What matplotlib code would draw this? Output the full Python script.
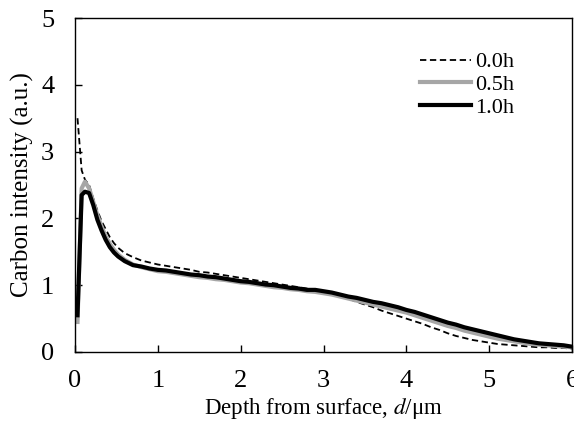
import matplotlib
matplotlib.use("Agg")
import matplotlib.pyplot as plt

# depth from surface (um), shared by all three profiles
depth = [0.03, 0.08, 0.12, 0.17, 0.22, 0.27, 0.32, 0.37, 0.42, 0.47, 0.52,
         0.6, 0.7, 0.8, 0.9, 1.0, 1.1, 1.2, 1.3, 1.4, 1.5, 1.6, 1.7, 1.8, 1.9,
         2.0, 2.1, 2.2, 2.3, 2.4, 2.5, 2.6, 2.7, 2.8, 2.9, 3.0, 3.1, 3.2, 3.3,
         3.4, 3.5, 3.6, 3.7, 3.8, 3.9, 4.0, 4.1, 4.2, 4.3, 4.4, 4.5, 4.6, 4.7,
         4.8, 4.9, 5.0, 5.1, 5.2, 5.3, 5.4, 5.5, 5.6, 5.7, 5.8, 5.9, 6.0]

c_00h = [3.50, 2.72, 2.58, 2.50, 2.30, 2.12, 1.96, 1.84, 1.72, 1.63, 1.56,
         1.48, 1.42, 1.37, 1.34, 1.31, 1.29, 1.27, 1.25, 1.23, 1.20, 1.19, 1.17, 1.15, 1.13,
         1.11, 1.09, 1.07, 1.05, 1.03, 1.01, 0.99, 0.97, 0.95, 0.93, 0.90, 0.87, 0.84, 0.80,
         0.75, 0.71, 0.67, 0.62, 0.58, 0.54, 0.50, 0.46, 0.42, 0.37, 0.33, 0.28, 0.24, 0.21,
         0.18, 0.16, 0.14, 0.12, 0.11, 0.10, 0.09, 0.08, 0.07, 0.07, 0.06, 0.06, 0.05]

c_05h = [0.45, 2.45, 2.55, 2.45, 2.25, 2.05, 1.88, 1.73, 1.62, 1.53, 1.46,
         1.38, 1.31, 1.27, 1.24, 1.21, 1.20, 1.18, 1.16, 1.14, 1.12, 1.11, 1.09, 1.08, 1.06,
         1.04, 1.03, 1.01, 0.99, 0.97, 0.96, 0.94, 0.93, 0.91, 0.90, 0.88, 0.86, 0.83, 0.80,
         0.77, 0.74, 0.71, 0.68, 0.65, 0.62, 0.59, 0.55, 0.51, 0.47, 0.43, 0.39, 0.36, 0.32,
         0.29, 0.26, 0.23, 0.20, 0.18, 0.16, 0.14, 0.12, 0.11, 0.10, 0.09, 0.08, 0.07]

c_10h = [0.55, 2.35, 2.40, 2.38, 2.20, 1.98, 1.82, 1.68, 1.57, 1.49, 1.43,
         1.36, 1.30, 1.28, 1.25, 1.23, 1.22, 1.20, 1.18, 1.16, 1.15, 1.13, 1.12, 1.10, 1.08,
         1.06, 1.05, 1.03, 1.01, 1.00, 0.98, 0.96, 0.95, 0.93, 0.93, 0.91, 0.89, 0.86, 0.83,
         0.81, 0.78, 0.75, 0.73, 0.70, 0.67, 0.63, 0.60, 0.56, 0.52, 0.48, 0.44, 0.41, 0.37,
         0.34, 0.31, 0.28, 0.25, 0.22, 0.19, 0.17, 0.15, 0.13, 0.12, 0.11, 0.10, 0.08]

labels = ["0.0h", "0.5h", "1.0h"]

plt.rcParams["font.family"] = ["Liberation Serif", "DejaVu Serif"]
plt.rcParams["mathtext.fontset"] = "stix"

fig = plt.figure(figsize=(5.74, 4.21), dpi=100)
ax = fig.add_axes([0.1307, 0.1639, 0.8658, 0.7933])

ax.plot(depth, c_00h, color="black", lw=1.3, linestyle=(0, (3.5, 2)), label=labels[0])
ax.plot(depth, c_05h, color="#a6a6a6", lw=3.0, label=labels[1])
ax.plot(depth, c_10h, color="black", lw=3.0, label=labels[2])

ax.set_xlim(0, 6)
ax.set_ylim(0, 5)
ax.set_xticks(range(0, 7))
ax.set_yticks(range(0, 6))
ax.tick_params(direction="in", length=5, width=1, labelsize=19, pad=13)
ax.tick_params(axis="y", pad=15)
for s in ax.spines.values():
    s.set_linewidth(1)

ax.set_xlabel("Depth from surface, $d$/\u03bcm", fontsize=16.5, labelpad=3)
ax.set_ylabel("Carbon intensity (a.u.)", fontsize=18, labelpad=5)

ax.legend(loc="center left", bbox_to_anchor=(0.694, 0.80), frameon=False,
          fontsize=16, handlelength=2.3, handletextpad=0.2, labelspacing=0.1,
          borderpad=0, borderaxespad=0)

fig.savefig("out.png", dpi=100)
